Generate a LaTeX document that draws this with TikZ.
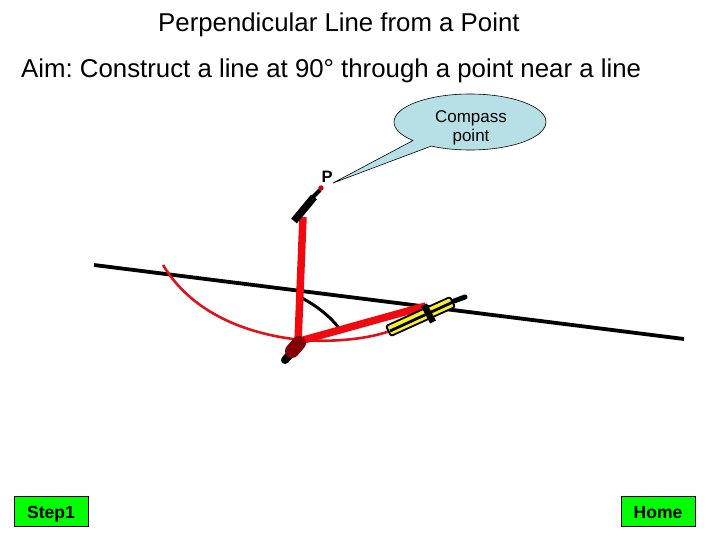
\documentclass[tikz,border=0pt]{standalone}
\usepackage{fontspec}
\setmainfont{Liberation Sans}
\usetikzlibrary{shapes.callouts,positioning}
\definecolor{bubble-blue}{RGB}{183,224,230}
\definecolor{button-green}{RGB}{0,255,0}
\definecolor{pen-red}{RGB}{240,10,15}
\definecolor{arc-red}{RGB}{222,20,25}
\definecolor{hub-red}{RGB}{130,0,5}
\definecolor{pencil-yellow}{RGB}{250,240,40}
\tikzset{
  heading/.style={font=\fontsize{25.8}{28}\selectfont\frenchspacing, inner sep=0pt},
  button/.style={draw=black, fill=button-green, line width=1pt, minimum width=74pt, minimum height=30pt, inner sep=0pt, text height=15pt, text depth=0pt, font=\fontsize{17.5}{20}\selectfont\bfseries},
  arm/.style={pen-red, line width=7.5pt},
  thin-arc/.style={line width=2.6pt},
}
\begin{document}
\begin{tikzpicture}[x=1pt,y=-1pt]
  \useasboundingbox (0,0) rectangle (720,540);

  \node[heading, anchor=west] (title) at (158,25) {Perpendicular Line from a Point};
  \node[heading, anchor=west] (aim) at (21,71) {Aim: Construct a line at 90° through a point near a line};

  \coordinate (P) at (321,188);
  \coordinate (hub) at (297,346);

  % the line
  \draw[line width=3.8pt] (94,265) -- (684,339);

  % arcs
  \draw[arc-red, thin-arc] (163,265) .. controls (190,310) and (240,332) .. (293,339)
     .. controls (325,343) and (365,340) .. (390,331);
  \draw[thin-arc, line width=3pt] (298,296) .. controls (318,306) and (332,318) .. (342,332);

  % compass legs
  \draw[arm] (303,217) -- (298,342);
  \draw[arm] (300,341) -- (426,306);

  % point end
  \draw[line width=7.5pt] (294,221) -- (314,197);
  \draw[line width=4pt] (312,198) -- (320,190);
  \fill[pen-red!80!black] (P) circle (2.7pt);
  \node[font=\fontsize{16.5}{20}\selectfont\bfseries, inner sep=0pt] (Plabel) at (327,177) {P};

  % hub
  \draw[line width=8pt, line cap=round] (285,360) -- (292,352);
  \draw[hub-red, line width=14pt, line cap=round] (299,343) -- (292,351);

  % pencil end
  \draw[line width=5pt, line cap=round] (454,301) -- (465,297);
  \draw[black, fill=pencil-yellow, line width=1.8pt, rounded corners=2pt]
     (386,326) -- (450,297) -- (455,307) -- (391,336) -- cycle;
  \draw[line width=2.8pt] (390,331) -- (453,302);
  \draw[line width=6.5pt] (424,305) -- (433,322);

  % bubble
  \node[ellipse callout, draw=black, fill=bubble-blue, line width=0.6pt,
        minimum width=152pt, minimum height=56pt, inner sep=0pt,
        callout absolute pointer={(333,183)}, callout pointer arc=18] (bubble) at (470,122) {};
  \node[align=center, font=\fontsize{17}{19}\selectfont, inner sep=0pt] (bubbletext) at (471,128) {Compass\\point};

  % buttons
  \node[button] (step) at (51,511) {Step1};
  \node[button] (home) at (658,511) {Home};
\end{tikzpicture}
\end{document}
